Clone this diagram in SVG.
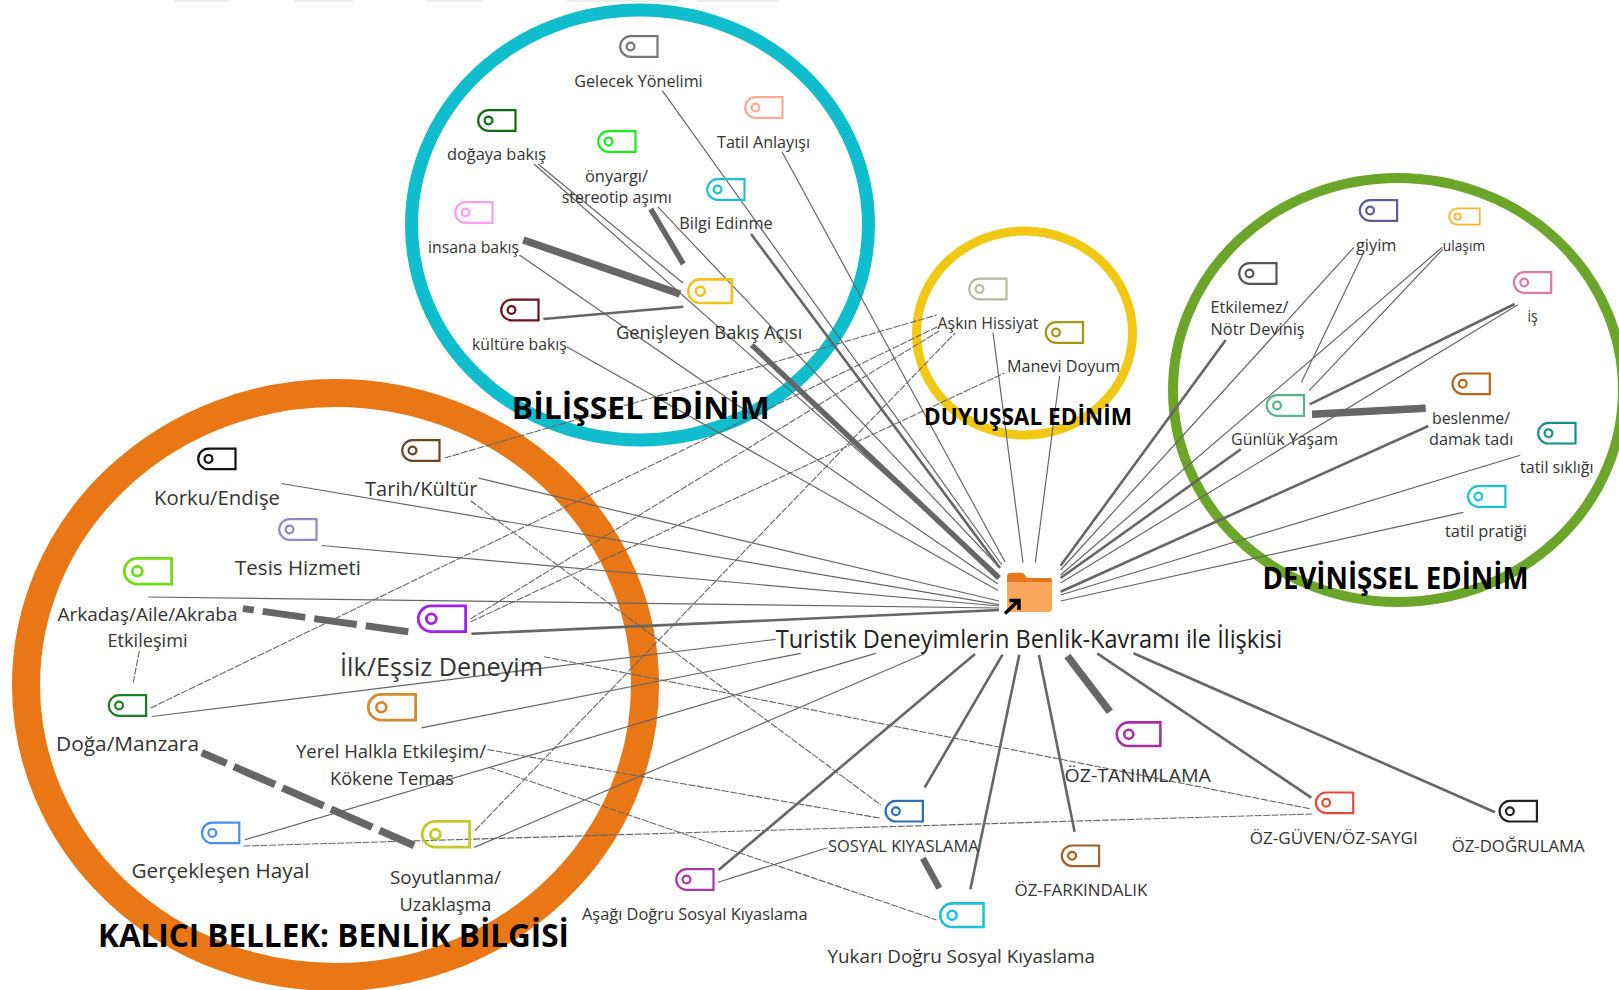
<svg xmlns="http://www.w3.org/2000/svg" width="1619" height="990" viewBox="0 0 1619 990">
<style>
text{font-family:"Open Sans","Noto Sans","Liberation Sans",sans-serif;fill:#333;}
.t{font-weight:700;fill:#000;}
.ring{fill:none;}
.l{fill:none;stroke:#666;stroke-width:1.2;}
.m{fill:none;stroke:#666;stroke-width:2.6;}
.d{fill:none;stroke:#666;stroke-width:1.1;stroke-dasharray:7 1.5;}
.h{fill:none;stroke:#666;}
.tag path,.tag circle{fill:none;stroke:currentColor;stroke-width:2.2;}
</style>
<defs>
<g id="tag" class="tag"><path d="M10.5 1.2H37.5V21.8H10.5A10.3 10.3 0 0 1 10.5 1.2Z"/><circle cx="10.5" cy="11.5" r="3.9"/></g>
</defs>
<rect width="1619" height="990" fill="#fff"/>
<g id="top-edge" fill="#eee">
<rect x="174" y="0" width="54" height="2"/><rect x="294" y="0" width="59" height="2"/><rect x="427" y="0" width="56" height="2"/><rect x="567" y="0" width="112" height="2"/><rect x="697" y="0" width="82" height="2"/>
</g>
<g id="rings">
<ellipse class="ring" cx="640" cy="225" rx="228.5" ry="215" stroke="#0fbdcc" stroke-width="13"/>
<ellipse class="ring" cx="1024.5" cy="333" rx="108" ry="102" stroke="#f1c915" stroke-width="9"/>
<ellipse class="ring" cx="1398" cy="390" rx="225" ry="212" stroke="#6ba52a" stroke-width="10"/>
<ellipse class="ring" cx="335.5" cy="685" rx="309.5" ry="292" stroke="#ea7715" stroke-width="28"/>
</g>
<g id="connectors">
<path class="l" d="M662.3 90.7L1002 565M782 151.7L1005 562M534 164L998 574M538 164L683 283M657.7 206.7L998 566M519.3 255L998 584M566.7 346.7L998 590.6"/>
<path class="m" d="M751 234L1000 568M543.3 319L683.3 306.7"/>
<path class="h" stroke-width="5.5" d="M751.7 345L999 578M650.7 209L683.3 264"/>
<path class="h" stroke-width="7.5" d="M523.3 240L680 294"/>
<path class="d" d="M444.6 458L936.7 315M150.7 708L937.6 326.7M470.7 618.8L939 331M470.7 621.8L1004.6 373M475 830.5L955 333M544 656.7L1311.3 809M487.5 749.6L881 818.3M489 767.3L936.4 920M470.7 500.8L881 805M243.6 846L1312 814M139.3 651L133.2 682.7"/>
<path class="h" stroke-width="7" stroke-dasharray="43 9" stroke-dashoffset="32" d="M242.9 608.6L409.6 632"/>
<path class="h" stroke-width="7.5" stroke-dasharray="45 8" stroke-dashoffset="18" d="M201.8 752.6L414 845.5"/>
<path class="l" d="M281.4 483.5L999 604.6M478.6 478.2L999 601M321.4 545.5L999 606M148.2 597L999 608M151.8 716.5L775.7 639.3M421.4 727.8L800.7 653.3M244.6 839.8L875.7 653.3M474.3 847.4L923.9 654M717.9 882.3L827.5 847.7"/>
<path class="m" d="M471.4 633.8L999 610M718.6 870L975 654M924.6 787.7L1002.5 654.7M970.4 889.3L1019.3 654.7M1038.9 655L1074.6 831.7M1097.2 653.3L1311.3 797.7M1133.5 653.3L1495 812.3"/>
<path class="h" stroke-width="6.5" d="M922.9 858.3L939.3 888.3"/>
<path class="h" stroke-width="7.5" d="M1067.4 656L1109.9 711.7"/>
<path class="m" d="M1225.7 340L1060.6 565.7M1514.7 304L1309.6 404.3M1240.8 449.3L1060.6 578M1428.4 426L1060.6 591.7"/>
<path class="l" d="M1354 247.3L1060.6 570M1363.3 253.3L1301.4 382.3M1442.2 247.3L1060.6 575M1442.7 249.3L1309.2 390.7M1517.9 304.7L1060.6 583M1520.2 455.3L1060.6 595M1463.3 512.3L1060.6 601M993 332.7L1023 562.7M1059.6 376L1035.3 562.7"/>
<path class="h" stroke-width="7.5" d="M1312 414.3L1425.7 408.3"/>
</g>
<g id="hub">
<path d="M1007 582V577Q1007 572.7 1011 572.7H1021Q1024 572.7 1027 578H1050Q1052 578 1052 581V584H1007Z" fill="#e8761a"/>
<path d="M1007 582H1052V609Q1052 612 1049 612H1010Q1007 612 1007 609Z" fill="#fba85e"/>
<path d="M1005 613.5L1017 602M1009.5 600.5H1019V610" fill="none" stroke="#000" stroke-width="3.4"/>
<text x="775.7" y="648" font-size="25" textLength="506.6" lengthAdjust="spacingAndGlyphs" style="fill:#222">Turistik Deneyimlerin Benlik-Kavramı ile İlişkisi</text>
</g>
<g id="bilissel"><text class="t" x="511.8" y="419.3" font-size="31" textLength="258" lengthAdjust="spacingAndGlyphs">BİLİŞSEL EDİNİM</text></g>
<g id="duyussal"><text class="t" x="924" y="425" font-size="24" textLength="208" lengthAdjust="spacingAndGlyphs">DUYUŞSAL EDİNİM</text></g>
<g id="devinissel"><text class="t" x="1262.5" y="588.7" font-size="30" textLength="266" lengthAdjust="spacingAndGlyphs">DEVİNİŞSEL EDİNİM</text></g>
<g id="kalici"><text class="t" x="98" y="947" font-size="33" textLength="471" lengthAdjust="spacingAndGlyphs">KALICI BELLEK: BENLİK BİLGİSİ</text></g>

<g id="n-gelecek" color="#777"><use href="#tag" x="620" y="35"/><text x="574.3" y="86.7" font-size="16" textLength="128.4" lengthAdjust="spacingAndGlyphs">Gelecek Yönelimi</text></g>
<g id="n-tatil-anlayisi" color="#ffab8f"><use href="#tag" x="745" y="96"/><text x="717" y="147.7" font-size="16" textLength="93" lengthAdjust="spacingAndGlyphs">Tatil Anlayışı</text></g>
<g id="n-dogaya" color="#0d6b12"><use href="#tag" x="478" y="109"/><text x="447" y="160" font-size="16" textLength="99" lengthAdjust="spacingAndGlyphs">doğaya bakış</text></g>
<g id="n-onyargi" color="#22e822"><use href="#tag" x="598" y="130"/><text x="585" y="181.7" font-size="16" textLength="63" lengthAdjust="spacingAndGlyphs">önyargı/</text><text x="561.7" y="202.7" font-size="16" textLength="110" lengthAdjust="spacingAndGlyphs">stereotip aşımı</text></g>
<g id="n-bilgi" color="#1ebfd0"><use href="#tag" x="707" y="178"/><text x="679.3" y="229" font-size="16" textLength="93.4" lengthAdjust="spacingAndGlyphs">Bilgi Edinme</text></g>
<g id="n-insana" color="#ff9cf5"><use href="#tag" x="455" y="201"/><text x="428" y="253.3" font-size="16" textLength="91" lengthAdjust="spacingAndGlyphs">insana bakış</text></g>
<g id="n-genisleyen" color="#f0c419"><use href="#tag" transform="translate(688 278) scale(1.17 1.15)"/><text x="616" y="339.3" font-size="18" textLength="186.3" lengthAdjust="spacingAndGlyphs">Genişleyen Bakış Açısı</text></g>
<g id="n-kulture" color="#6b1420"><use href="#tag" x="501" y="298.5"/><text x="472" y="349.7" font-size="16" textLength="94.7" lengthAdjust="spacingAndGlyphs">kültüre bakış</text></g>

<g id="n-askin" color="#b2bd9e"><use href="#tag" x="969" y="277.5"/><text x="937.6" y="329.3" font-size="16" textLength="100.9" lengthAdjust="spacingAndGlyphs">Aşkın Hissiyat</text></g>
<g id="n-manevi" color="#a89414"><use href="#tag" x="1045.5" y="321"/><text x="1006.9" y="372" font-size="16" textLength="113.3" lengthAdjust="spacingAndGlyphs">Manevi Doyum</text></g>

<g id="n-giyim" color="#5d5d94"><use href="#tag" x="1359.6" y="199"/><text x="1356" y="251" font-size="16" textLength="40.4" lengthAdjust="spacingAndGlyphs">giyim</text></g>
<g id="n-ulasim" color="#f9b62d"><use href="#tag" transform="translate(1449 207.3) scale(.82 .8)"/><text x="1442.7" y="251" font-size="14" textLength="42.6" lengthAdjust="spacingAndGlyphs">ulaşım</text></g>
<g id="n-etkilemez" color="#555"><use href="#tag" x="1239" y="262"/><text x="1210.5" y="312.7" font-size="16" textLength="78" lengthAdjust="spacingAndGlyphs">Etkilemez/</text><text x="1210.5" y="335.3" font-size="16" textLength="94.1" lengthAdjust="spacingAndGlyphs">Nötr Deviniş</text></g>
<g id="n-is" color="#de7aa8"><use href="#tag" x="1513.7" y="271"/><text x="1527.4" y="321.7" font-size="16" textLength="10.1" lengthAdjust="spacingAndGlyphs">iş</text></g>
<g id="n-gunluk" color="#5cb38a"><use href="#tag" x="1266.5" y="394"/><text x="1231" y="444.7" font-size="16" textLength="107" lengthAdjust="spacingAndGlyphs">Günlük Yaşam</text></g>
<g id="n-beslenme" color="#b8641a"><use href="#tag" x="1452.3" y="372.3"/><text x="1432" y="424" font-size="16" textLength="78" lengthAdjust="spacingAndGlyphs">beslenme/</text><text x="1429" y="445.3" font-size="16" textLength="84.3" lengthAdjust="spacingAndGlyphs">damak tadı</text></g>
<g id="n-tatil-sikligi" color="#148f8f"><use href="#tag" x="1538" y="421.7"/><text x="1520" y="472.7" font-size="16" textLength="73.6" lengthAdjust="spacingAndGlyphs">tatil sıklığı</text></g>
<g id="n-tatil-pratigi" color="#1cc4cc"><use href="#tag" x="1467.9" y="485"/><text x="1445" y="537" font-size="16" textLength="82" lengthAdjust="spacingAndGlyphs">tatil pratiği</text></g>

<g id="n-korku" color="#111"><use href="#tag" x="198" y="447.4"/><text x="154" y="505" font-size="20" textLength="126" lengthAdjust="spacingAndGlyphs">Korku/Endişe</text></g>
<g id="n-tarih" color="#6b4423"><use href="#tag" x="402" y="439"/><text x="365" y="495.5" font-size="20" textLength="112.5" lengthAdjust="spacingAndGlyphs">Tarih/Kültür</text></g>
<g id="n-tesis" color="#8e88cc"><use href="#tag" x="279" y="518"/><text x="235" y="575" font-size="20" textLength="126" lengthAdjust="spacingAndGlyphs">Tesis Hizmeti</text></g>
<g id="n-arkadas" color="#6fdc14"><use href="#tag" transform="translate(124 557) scale(1.27 1.24)"/><text x="57.5" y="621" font-size="18.5" textLength="180" lengthAdjust="spacingAndGlyphs">Arkadaş/Aile/Akraba</text><text x="107.5" y="647" font-size="18.5" textLength="80" lengthAdjust="spacingAndGlyphs">Etkileşimi</text></g>
<g id="n-ilk" color="#a020f0"><use href="#tag" transform="translate(418 604.5) scale(1.27 1.24)"/><text x="340" y="676.4" font-size="25" textLength="203" lengthAdjust="spacingAndGlyphs">İlk/Eşsiz Deneyim</text></g>
<g id="n-doga" color="#1a7f27"><use href="#tag" x="108.6" y="694"/><text x="56" y="751" font-size="20" textLength="143" lengthAdjust="spacingAndGlyphs">Doğa/Manzara</text></g>
<g id="n-yerel" color="#d68a2e"><use href="#tag" transform="translate(368 693) scale(1.27 1.24)"/><text x="296" y="758" font-size="18.5" textLength="190" lengthAdjust="spacingAndGlyphs">Yerel Halkla Etkileşim/</text><text x="330" y="784.5" font-size="18.5" textLength="124" lengthAdjust="spacingAndGlyphs">Kökene Temas</text></g>
<g id="n-gerceklesen" color="#4a8ee8"><use href="#tag" x="201.8" y="821.4"/><text x="131.5" y="878.4" font-size="20" textLength="178" lengthAdjust="spacingAndGlyphs">Gerçekleşen Hayal</text></g>
<g id="n-soyutlanma" color="#c4c82a"><use href="#tag" transform="translate(422 820) scale(1.27 1.24)"/><text x="390" y="884" font-size="18.5" textLength="111" lengthAdjust="spacingAndGlyphs">Soyutlanma/</text><text x="399.5" y="910.8" font-size="18.5" textLength="92" lengthAdjust="spacingAndGlyphs">Uzaklaşma</text></g>

<g id="n-sosyal" color="#2e6fb0"><use href="#tag" x="885.4" y="799.7"/><text x="827.9" y="852" font-size="16" textLength="150.7" lengthAdjust="spacingAndGlyphs">SOSYAL KIYASLAMA</text></g>
<g id="n-asagi" color="#a838a8"><use href="#tag" x="676" y="868"/><text x="582" y="920" font-size="16" textLength="225.5" lengthAdjust="spacingAndGlyphs">Aşağı Doğru Sosyal Kıyaslama</text></g>
<g id="n-yukari" color="#18c4d8"><use href="#tag" transform="translate(940 902) scale(1.16 1.15)"/><text x="827.5" y="962.7" font-size="18" textLength="267.5" lengthAdjust="spacingAndGlyphs">Yukarı Doğru Sosyal Kıyaslama</text></g>
<g id="n-farkindalik" color="#a65f24"><use href="#tag" x="1061.6" y="844.3"/><text x="1014.5" y="896.3" font-size="16" textLength="132.8" lengthAdjust="spacingAndGlyphs">ÖZ-FARKINDALIK</text></g>
<g id="n-tanimlama" color="#a82ea8"><use href="#tag" transform="translate(1116.5 721) scale(1.17 1.15)"/><text x="1064.5" y="782.3" font-size="18.5" textLength="146.5" lengthAdjust="spacingAndGlyphs">ÖZ-TANIMLAMA</text></g>
<g id="n-guven" color="#e84a3a"><use href="#tag" x="1315.7" y="791.3"/><text x="1249.7" y="843.7" font-size="16" textLength="168" lengthAdjust="spacingAndGlyphs">ÖZ-GÜVEN/ÖZ-SAYGI</text></g>
<g id="n-dogrulama" color="#222"><use href="#tag" x="1499.4" y="799.7"/><text x="1451.7" y="851.7" font-size="16" textLength="133" lengthAdjust="spacingAndGlyphs">ÖZ-DOĞRULAMA</text></g>
</svg>
